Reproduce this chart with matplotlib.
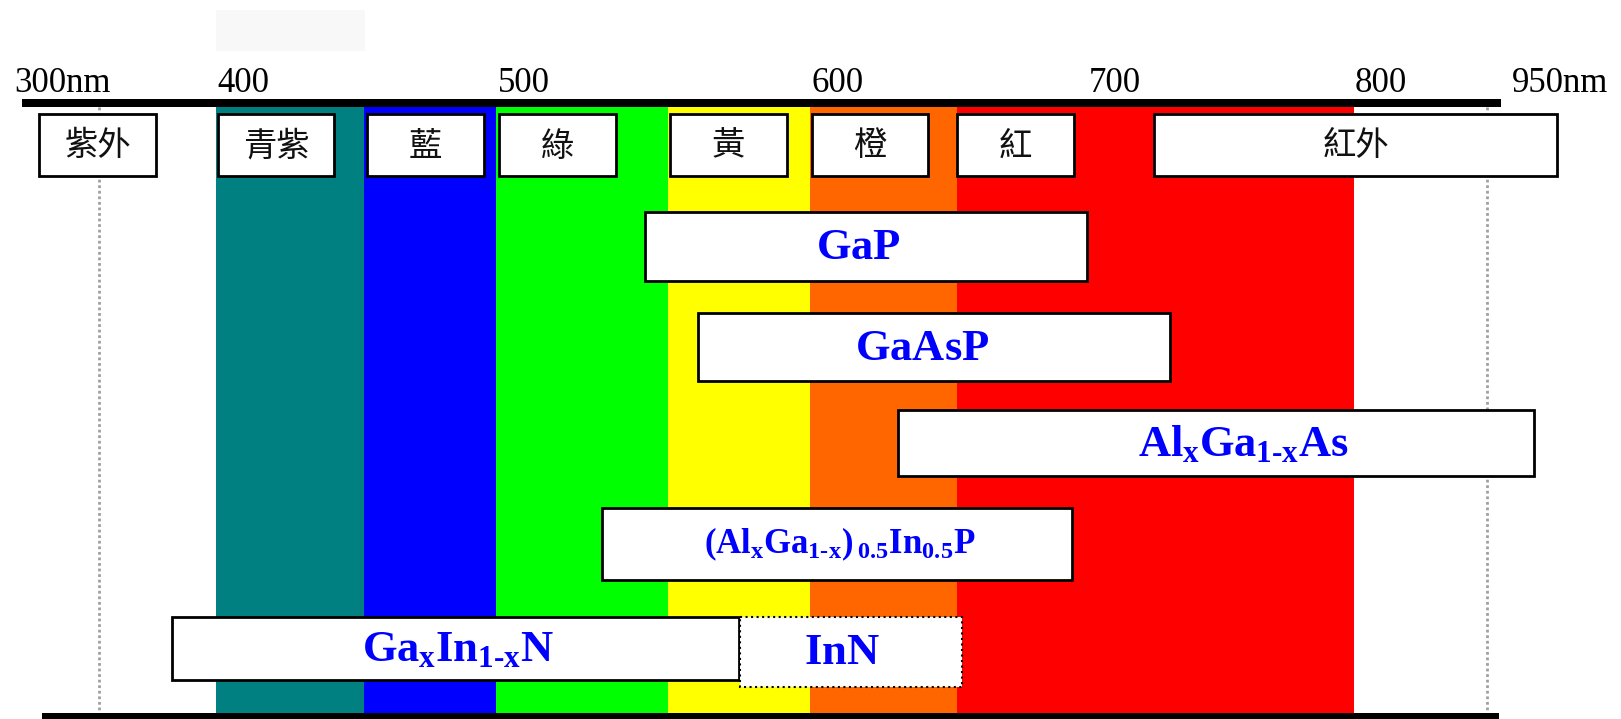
import numpy as np
import matplotlib
matplotlib.use("Agg")
import matplotlib.pyplot as plt

# ---------------- data ----------------
tick_nm = [300, 400, 500, 600, 700, 800, 950]
tick_labels = ["300nm", "400", "500", "600", "700", "800", "950nm"]

band_edges_nm = [388, 443, 490, 546, 591, 643, 790]
band_colors = ["#008080", "#0000FF", "#00FF00", "#FFFF00", "#FF6600", "#FF0000"]

region_names = ["紫外", "青紫", "藍", "綠", "黃", "橙", "紅", "紅外"]
region_start_nm = [311, 389, 444, 491, 546.5, 591.7, 643, 714.7]
region_end_nm = [362, 432.4, 485.8, 529.3, 583.8, 632.5, 685.2, 916.5]

material_names = [
    r"$GaP$",
    r"$GaAsP$",
    r"$Al_{x}Ga_{1\text{-}x}As$",
    r"$(Al_{x}Ga_{1\text{-}x})\,{}_{0.5}In_{0.5}P$",
    r"$Ga_{x}In_{1\text{-}x}N$",
    r"$InN$",
]
material_start_nm = [538.5, 555.4, 621.7, 524.8, 369.0, 568.8]
material_end_nm = [689.9, 720.7, 901.0, 684.5, 568.5, 644.8]

guide_nm = [337, 870]

# ---------------- layout ----------------
W, H = 1621, 719
TICK_PX = [14, 243, 524, 838, 1115, 1381, 1608]   # screen position of each tick label
mat_rows = [(212, 281), (313, 381), (410, 476), (508, 580), (617, 680), (617, 687)]
mat_label_x = [607.2, 630.3, 748.1, 600.7, 476.5, 601.4]
mat_fontsize = [32, 32, 32, 25, 32, 32]
mat_ls = ["-", "-", "-", "-", "-", ":"]
label_row = (114, 176)
top_bar = (99, 107, 303.5, 879.3)
bot_bar = (713, 730, 312.2, 878.0)
band_y = (107, 713)

# piecewise linear wavelength -> screen scale
NM_A = np.array([200.0] + tick_nm + [1100.0])
PX_A = np.array(TICK_PX, dtype=float)
PX_A = np.concatenate([[PX_A[0] - 100 * (PX_A[1] - PX_A[0]) / 100.0],
                       PX_A,
                       [PX_A[-1] + 150 * (PX_A[-1] - PX_A[-2]) / 150.0]])


def fwd(x):
    return np.interp(x, NM_A, PX_A)


def inv(p):
    return np.interp(p, PX_A, NM_A)


plt.rcParams["mathtext.fontset"] = "custom"
plt.rcParams["mathtext.rm"] = "Liberation Serif:bold"
plt.rcParams["mathtext.it"] = "Liberation Serif:bold"
plt.rcParams["mathtext.bf"] = "Liberation Serif:bold"

fig = plt.figure(figsize=(W / 100, H / 100), dpi=100)
ax = fig.add_axes([0, 0, 1, 1])
ax.set_xscale("function", functions=(fwd, inv))
ax.set_xlim(inv(0), inv(W))
ax.set_ylim(H, 0)
ax.axis("off")

# faint rectangle at top
ax.bar(band_edges_nm[0], 51 - 10, width=443.4 - band_edges_nm[0], bottom=10,
       align="edge", color="#f8f8f8", zorder=0)

# spectrum bands
for i, c in enumerate(band_colors):
    ax.bar(band_edges_nm[i], band_y[1] - band_y[0],
           width=band_edges_nm[i + 1] - band_edges_nm[i],
           bottom=band_y[0], align="edge", color=c, linewidth=0, zorder=1)

# gray guide lines
for g in guide_nm:
    ax.vlines(g, band_y[0], band_y[1], color="#a0a0a0", lw=2, ls=(0, (1, 1)), zorder=2)

# top and bottom bars
ax.bar(top_bar[2], top_bar[1] - top_bar[0], width=top_bar[3] - top_bar[2],
       bottom=top_bar[0], align="edge", color="black", linewidth=0, zorder=3)
ax.bar(bot_bar[2], bot_bar[1] - bot_bar[0], width=bot_bar[3] - bot_bar[2],
       bottom=bot_bar[0], align="edge", color="black", linewidth=0, zorder=3)

# tick labels
for v, t in zip(tick_nm, tick_labels):
    ha = "left" if t == tick_labels[0] else ("right" if t == tick_labels[-1] else "center")
    ax.text(v, 92, t, ha=ha, va="baseline", fontsize=25,
            family="Liberation Serif", color="black", zorder=5)

# region label boxes
for name, s, e in zip(region_names, region_start_nm, region_end_nm):
    ax.bar(s, label_row[1] - label_row[0], width=e - s, bottom=label_row[0],
           align="edge", color="white", edgecolor="black", linewidth=2, zorder=4)
    xc = inv((fwd(s) + fwd(e)) / 2)
    ax.text(xc, (label_row[0] + label_row[1]) / 2 + 1, name, ha="center", va="center",
            fontsize=24, family=["Noto Sans CJK TC", "DejaVu Sans"],
            color="#111111", zorder=5)

# material boxes
for name, s, e, (y0, y1), lx, fs, ls in zip(material_names, material_start_nm,
                                             material_end_nm, mat_rows, mat_label_x,
                                             mat_fontsize, mat_ls):
    ax.bar(s, y1 - y0, width=e - s, bottom=y0, align="edge", color="white",
           edgecolor="black", linewidth=2 if ls == "-" else 1.5, linestyle=ls, zorder=4)
    ax.text(lx, (y0 + y1) / 2, name, ha="center", va="center", fontsize=fs,
            color="#0000FF", zorder=5)

fig.savefig("out.png", dpi=100)
